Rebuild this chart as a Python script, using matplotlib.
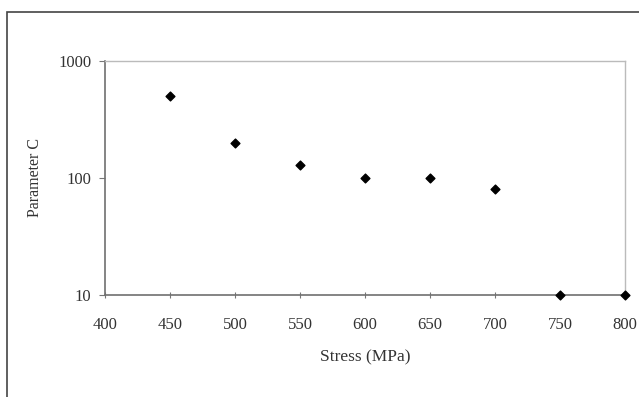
import matplotlib.pyplot as plt
from matplotlib.patches import Rectangle

# Parameter C versus applied stress
stress = [450, 500, 550, 600, 650, 700, 750, 800]
param_c = [500, 200, 130, 100, 100, 80, 10, 10]
x_ticks = [400, 450, 500, 550, 600, 650, 700, 750, 800]
y_ticks = [10, 100, 1000]

plt.rcParams["font.family"] = "Liberation Serif"

fig = plt.figure(figsize=(6.39, 3.97), dpi=100)
ax = fig.add_axes([105 / 639, 1 - 295 / 397, 520 / 639, 234 / 397])

ax.scatter(stress, param_c, marker="D", s=20, color="black", zorder=3, clip_on=False)

ax.set_yscale("log")
ax.set_xlim(400, 800)
ax.set_ylim(10, 1000)
ax.set_xticks(x_ticks)
ax.set_xticklabels([str(v) for v in x_ticks])
ax.set_yticks(y_ticks)
ax.set_yticklabels([str(v) for v in y_ticks])
ax.minorticks_off()

ax.tick_params(axis="x", direction="inout", length=5, width=0.8, color="#777777",
               labelsize=12, pad=13, labelcolor="#333333")
ax.tick_params(axis="y", direction="out", length=4, width=0.8, color="#777777",
               labelsize=12, pad=6, labelcolor="#333333")

for side in ["left", "bottom"]:
    ax.spines[side].set_color("#707070")
    ax.spines[side].set_linewidth(1.2)
for side in ["top", "right"]:
    ax.spines[side].set_color("#bbbbbb")
    ax.spines[side].set_linewidth(1.0)

ax.set_xlabel("Stress (MPa)", fontsize=12.5, labelpad=12, color="#333333")
ax.set_ylabel("Parameter C", fontsize=11.5, labelpad=11, color="#333333")

# outer frame that runs off the right and bottom edges
fig.patches.append(Rectangle((7 / 639, -0.1), 1.2, 1 - 12 / 397 + 0.1,
                             transform=fig.transFigure, fill=False,
                             edgecolor="#444444", linewidth=1.2))

fig.savefig("out.png", dpi=100)
